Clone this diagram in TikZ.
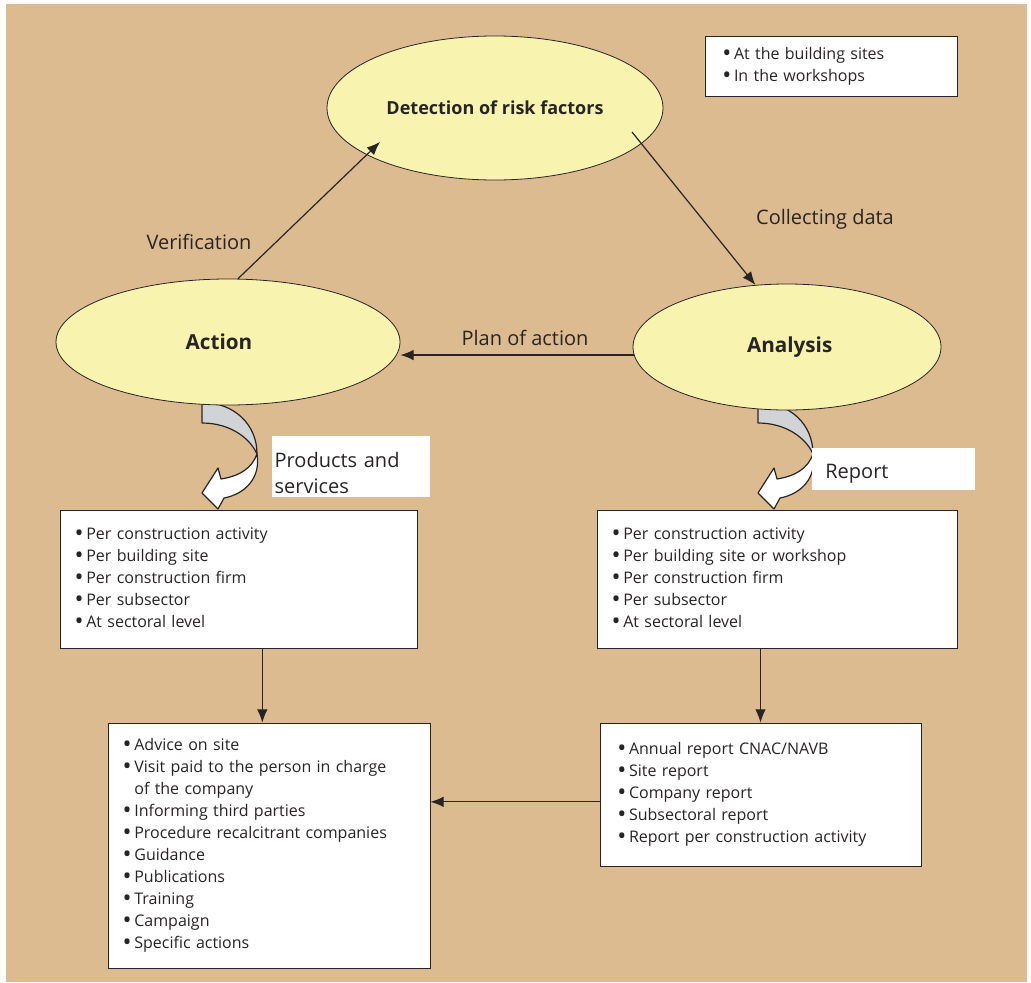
\documentclass[tikz,border=0pt]{standalone}
\usepackage{fontspec}
\setmainfont{Open Sans}
\usetikzlibrary{shapes.geometric,arrows.meta}

\definecolor{tanbg}{RGB}{221,187,144}
\definecolor{paleyellow}{RGB}{248,244,176}
\definecolor{twistgrey}{RGB}{210,211,214}
\definecolor{inkgrey}{RGB}{40,36,37}

\tikzset{
	phase/.style={ellipse, draw=inkgrey, line width=0.6pt, fill=paleyellow, inner sep=0pt, text=inkgrey},
	listbox/.style={draw=inkgrey, line width=0.6pt, fill=white, text=inkgrey, inner ysep=0pt, align=left, font=\fontsize{12}{16.5}\selectfont},
	flowlabel/.style={text=inkgrey, font=\fontsize{15}{19.5}\selectfont},
	flowarrow/.style={draw=inkgrey, line width=0.9pt, -{Latex[length=10pt,width=8pt]}},
}

\newcommand{\bul}{\raisebox{-1.5pt}{\fontsize{18}{18}\selectfont\textbullet}\hspace{2pt}}
% twisted arrow below an ellipse, #1,#2 = top left corner
\newcommand{\curlarrow}[2]{
	\begin{scope}[shift={(#1,#2)}]
		\filldraw[fill=twistgrey, draw=inkgrey, line width=0.9pt, line join=round] (0,0) .. controls (32,1) and (55,22) .. (55,52) .. controls (48,36) and (28,21) .. (0,21) -- cycle;
		\filldraw[fill=white, draw=inkgrey, line width=0.9pt, line join=round] (55,52) .. controls (50,66) and (38,74) .. (19,77) -- (16,66) -- (0,91) -- (16,107) -- (22,96) .. controls (43,92) and (59,76) .. (55,52) -- cycle;
	\end{scope}
}

\begin{document}
\begin{tikzpicture}[x=0.75pt,y=0.75pt,yscale=-1,xscale=1]
	\useasboundingbox (0,0) rectangle (1031,982);
	\fill[tanbg] (6,4) rectangle (1027,982);
	
	% Twisted arrows
	\curlarrow{202}{402}
	\curlarrow{758}{402}
	
	% Ellipses
	\node[phase, minimum width=252pt, minimum height=108pt, font=\bfseries\fontsize{13.5}{16}\selectfont] (detect) at (495,108) {Detection of risk factors};
	\node[phase, minimum width=258pt, minimum height=94.5pt, font=\bfseries\fontsize{15.5}{18}\selectfont] (action) at (228,342) {Action\hspace*{13.5pt}};
	\node[phase, minimum width=231pt, minimum height=94.5pt, font=\bfseries\fontsize{15.5}{18}\selectfont] (analysis) at (787,347) {\hspace*{4pt}Analysis};
	
	% Text Boxes
	\node[listbox, inner xsep=13pt, text width=163pt, minimum height=45pt] (sites) at (831,66) {\bul At the building sites\\\bul In the workshops};
	\node[listbox, inner xsep=11pt, text width=245.75pt, minimum height=103.5pt] (actlevels) at (238.5,579) {\bul Per construction activity\\\bul Per building site\\\bul Per construction firm\\\bul Per subsector\\\bul At sectoral level};
	\node[listbox, inner xsep=11pt, text width=248pt, minimum height=103.5pt] (anlevels) at (777,579) {\bul Per construction activity\\\bul Per building site or workshop\\\bul Per construction firm\\\bul Per subsector\\\bul At sectoral level};
	\node[listbox, inner xsep=11pt, text width=219.5pt, minimum height=183.75pt] (measures) at (269,845.5) {\bul Advice on site\\\bul Visit paid to the person in charge\\\hphantom{\bul}of the company\\\bul Informing third parties\\\bul Procedure recalcitrant companies\\\bul Guidance\\\bul Publications\\\bul Training\\\bul Campaign\\\bul Specific actions};
	\node[listbox, inner xsep=13pt, text width=214.75pt, minimum height=107.25pt] (reports) at (760.5,794.5) {\bul Annual report CNAC/NAVB\\\bul Site report\\\bul Company report\\\bul Subsectoral report\\\bul Report per construction activity};
	
	% Text Node
	\node[flowlabel] (verif) at (199,242) {Verification};
	\node[flowlabel] (collect) at (825,219) {Collecting data};
	\node[flowlabel] (plan) at (525,338) {Plan of action};
	\node[flowlabel, fill=white, align=left, inner xsep=2pt, inner ysep=0pt, text width=114.5pt, minimum height=45.75pt] (prodlabel) at (351,466.5) {\rule{0pt}{21.5pt}Products and\\services};
	\node[flowlabel, fill=white, align=left, inner xsep=10pt, inner ysep=0pt, text width=102.25pt, minimum height=31.5pt] (replabel) at (893.5,469) {\rule{0pt}{18.2pt}Report};
	
	% Connection
	\coordinate (verifTip) at (380,142);
	\coordinate (collectStart) at (632,132);
	\draw[flowarrow] (action.81) -- (verifTip);
	\draw[flowarrow] (collectStart) -- (analysis.117);
	\draw[flowarrow] (analysis.183) -- (analysis.183 -| action.east);
	\draw[flowarrow] ([xshift=-5pt]measures.north |- actlevels.south) -- ([xshift=-5pt]measures.north);
	\draw[flowarrow] (reports.north |- anlevels.south) -- (reports.north);
	\draw[flowarrow] ([yshift=5.5pt]reports.west) -- ([yshift=5.5pt]reports.west -| measures.east);
	
\end{tikzpicture}
\end{document}
